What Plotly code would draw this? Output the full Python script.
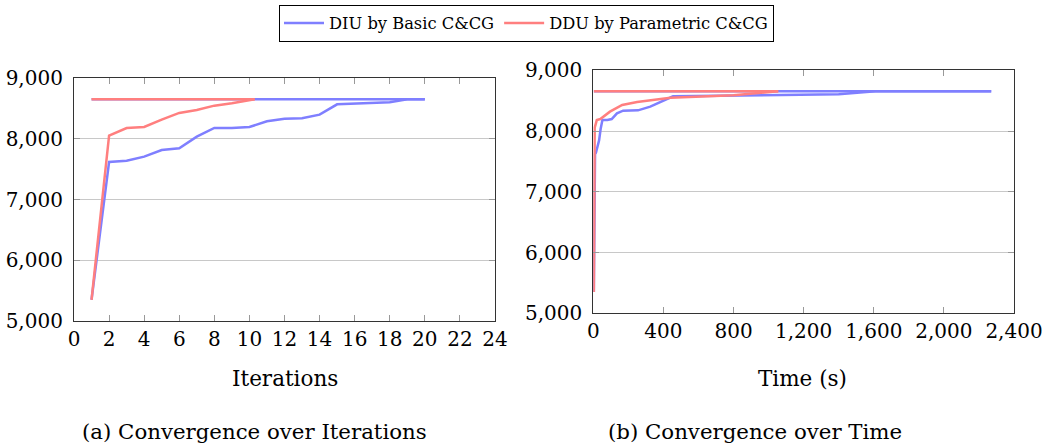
import plotly.graph_objects as go

# ---- data ----
blue_iter = list(range(1, 21))
blue_time = [3, 10, 15, 20, 28, 33, 42, 52, 80, 105, 135, 170, 255, 325, 455, 800, 1100, 1400, 1610, 2270]
blue_lb = [5350, 7621, 7643, 7709, 7819, 7846, 8038, 8181, 8181, 8198, 8291, 8335, 8341, 8401, 8571, 8582, 8585, 8604, 8654, 8655]
blue_ub = 8655

red_iter = [1, 2, 3, 4, 5, 6, 7, 8, 9, 10, 10.3]
red_time = [3, 8, 20, 40, 95, 165, 250, 440, 800, 1000, 1055]
red_lb = [5350, 8055, 8181, 8198, 8319, 8429, 8478, 8549, 8588, 8640, 8655]
red_ub = 8655

x1_ticks = list(range(0, 25, 2))
x2_ticks = [0, 400, 800, 1200, 1600, 2000, 2400]
y_ticks = [5000, 6000, 7000, 8000, 9000]

BLUE = "#7f7fff"
RED = "#ff7f7f"
FONT = "DejaVu Serif"
W, H = 1045, 447
LW = 2.5

fig = go.Figure()

def add_series(xs, lb, ub, color, name, xa, ya, show):
    fig.add_trace(go.Scatter(x=[xs[0], xs[-1]], y=[ub, ub], mode="lines",
                             line=dict(color=color, width=LW), xaxis=xa, yaxis=ya,
                             showlegend=False, legendgroup=name, hoverinfo="skip"))
    fig.add_trace(go.Scatter(x=xs, y=lb, mode="lines", name=name,
                             line=dict(color=color, width=LW), xaxis=xa, yaxis=ya,
                             showlegend=show, legendgroup=name))

add_series(blue_iter, blue_lb, blue_ub, BLUE, "DIU by Basic C&CG", "x", "y", True)
add_series(red_iter, red_lb, red_ub, RED, "DDU by Parametric C&CG", "x", "y", True)
add_series(blue_time, blue_lb, blue_ub, BLUE, "DIU by Basic C&CG", "x2", "y2", False)
add_series(red_time, red_lb, red_ub, RED, "DDU by Parametric C&CG", "x2", "y2", False)

axis_common = dict(showline=True, linecolor="#333333", linewidth=1.2, mirror="ticks",
                   ticks="inside", ticklen=6, tickcolor="#999999", tickwidth=1,
                   tickfont=dict(family=FONT, size=20, color="black"),
                   zeroline=False, automargin=False)

def px_x(a, b):
    return [a / W, b / W]

def px_y(top, bottom):
    return [(H - bottom) / H, (H - top) / H]

fig.update_layout(
    width=W, height=H,
    margin=dict(l=0, r=0, t=0, b=0),
    paper_bgcolor="white", plot_bgcolor="white",
    separators=".,",
    xaxis=dict(domain=px_x(74, 495), range=[0, 24], tickvals=x1_ticks, showgrid=False,
               anchor="y", **axis_common),
    yaxis=dict(domain=px_y(78.3, 321), range=[5000, 9000], tickvals=y_ticks, tickformat=",d",
               showgrid=True, gridcolor="#c8c8c8", gridwidth=1, anchor="x",
               ticklabelstandoff=6, **axis_common),
    xaxis2=dict(domain=px_x(593.3, 1014), range=[0, 2400], tickvals=x2_ticks, tickformat=",d",
                showgrid=False, anchor="y2", **axis_common),
    yaxis2=dict(domain=px_y(70.3, 313.3), range=[5000, 9000], tickvals=y_ticks, tickformat=",d",
                showgrid=True, gridcolor="#c8c8c8", gridwidth=1, anchor="x2",
                ticklabelstandoff=6, **axis_common),
    legend=dict(orientation="h", x=526.5 / W, xanchor="center", y=1 - 5 / H, yanchor="top",
                bordercolor="black", borderwidth=1, bgcolor="white",
                font=dict(family=FONT, size=16.3, color="black"),
                itemwidth=40, tracegroupgap=0),
    showlegend=True,
)

annots = [
    ("Iterations", 284.5, 378, 21.5),
    ("Time (s)", 802.5, 378, 21.5),
    ("(a) Convergence over Iterations", 254, 431, 21.3),
    ("(b) Convergence over Time", 755, 431, 21.3),
]
for text, cx, cy, fs in annots:
    fig.add_annotation(text=text, x=cx / W, y=1 - cy / H, xref="paper", yref="paper",
                       xanchor="center", yanchor="middle", showarrow=False,
                       font=dict(family=FONT, size=fs, color="black"))

fig.write_html("out.html")
